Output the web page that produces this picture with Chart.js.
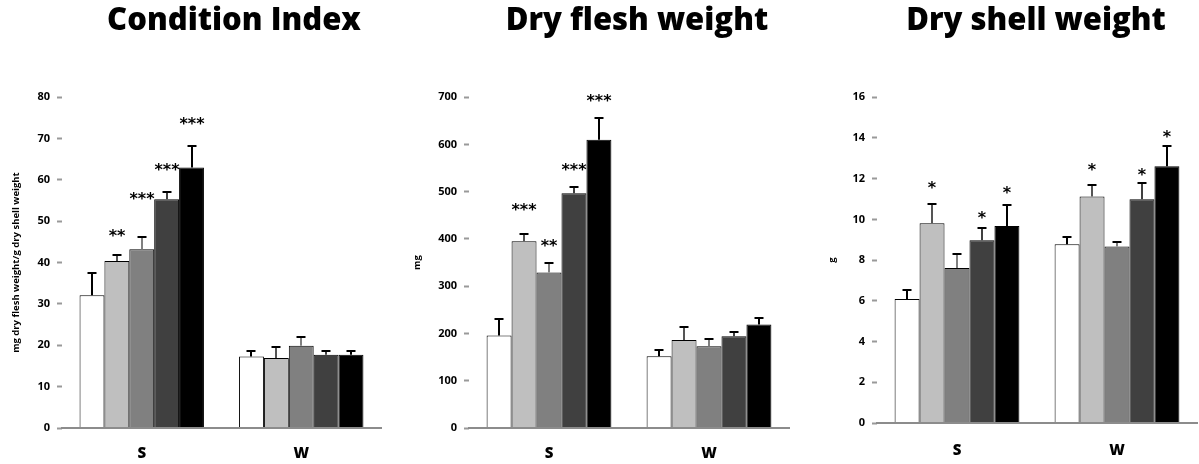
<!DOCTYPE html>
<html><head><meta charset="utf-8">
<script src="https://cdn.jsdelivr.net/npm/chart.js@4.4.1/dist/chart.umd.min.js"></script>
<style>
html,body{margin:0;padding:0;background:#fff;}
#wrap{position:relative;width:1199px;height:464px;overflow:hidden;background:#fff;}
.p{position:absolute;top:0;height:464px;}
canvas{display:block;}
</style></head><body>
<div id="wrap">
<div class="p" style="left:0;width:468px"><canvas id="c1" width="468" height="464"></canvas></div>
<div class="p" style="left:400px;width:474px"><canvas id="c2" width="474" height="464"></canvas></div>
<div class="p" style="left:800px;width:472px"><canvas id="c3" width="472" height="464"></canvas></div>
</div>
<script>
// ---------- data ----------
const categories = ['S', 'W'];
const seriesNames = ['Series 1', 'Series 2', 'Series 3', 'Series 4', 'Series 5'];

// Condition Index (mg dry flesh weight / g dry shell weight)
const ciTicks = [0, 10, 20, 30, 40, 50, 60, 70, 80];
const ci1 = [32.1, 17.3], ci1Err = [5.4, 1.4];
const ci2 = [40.4, 16.9], ci2Err = [1.5, 2.6];
const ci3 = [43.2, 19.9], ci3Err = [3.0, 2.1];
const ci4 = [55.3, 17.7], ci4Err = [1.8, 1.0];
const ci5 = [63.0, 17.7], ci5Err = [5.2, 1.0];
const ci2Sig = ['**', ''],  ci2SigAt = [47.4, null];
const ci3Sig = ['***', ''], ci3SigAt = [56.3, null];
const ci4Sig = ['***', ''], ci4SigAt = [63.3, null];
const ci5Sig = ['***', ''], ci5SigAt = [74.4, null];

// Dry flesh weight (mg)
const dfTicks = [0, 100, 200, 300, 400, 500, 600, 700];
const df1 = [196, 152], df1Err = [34, 12];
const df2 = [395, 186], df2Err = [15, 28];
const df3 = [329, 173], df3Err = [20, 16];
const df4 = [497, 194], df4Err = [13, 10];
const df5 = [610, 219], df5Err = [47, 14];
const df2Sig = ['***', ''], df2SigAt = [468, null];
const df3Sig = ['**', ''],  df3SigAt = [393, null];
const df4Sig = ['***', ''], df4SigAt = [553, null];
const df5Sig = ['***', ''], df5SigAt = [699, null];

// Dry shell weight (g)
const dsTicks = [0, 2, 4, 6, 8, 10, 12, 14, 16];
const ds1 = [6.09, 8.78], ds1Err = [0.45, 0.33];
const ds2 = [9.81, 11.12], ds2Err = [0.95, 0.55];
const ds3 = [7.61, 8.67], ds3Err = [0.71, 0.21];
const ds4 = [8.98, 10.99], ds4Err = [0.62, 0.81];
const ds5 = [9.68, 12.61], ds5Err = [1.03, 0.99];
const ds2Sig = ['*', '*'], ds2SigAt = [11.7, 12.6];
const ds4Sig = ['*', '*'], ds4SigAt = [10.25, 12.35];
const ds5Sig = ['*', '*'], ds5SigAt = [11.45, 14.2];

// ---------- styles ----------
const fills = ['#FFFFFF', '#BFBFBF', '#808080', '#404040', '#000000'];
const stemColors = ['#000000', '#555555', '#808080', '#404040', '#000000'];
const FONT = 'Open Sans';

function mkSets(vals, errs, sigs, sigAts) {
  return vals.map((v, i) => ({
    label: seriesNames[i],
    data: v,
    errors: errs[i],
    sig: sigs[i],
    sigAt: sigAts[i],
    backgroundColor: fills[i],
    borderColor: '#000000',
    borderWidth: 1,
    stemColor: stemColors[i]
  }));
}

const overlay = {
  id: 'overlay',
  afterDatasetsDraw(chart) {
    const ctx = chart.ctx;
    const ys = chart.scales.y;
    chart.data.datasets.forEach((ds, di) => {
      const meta = chart.getDatasetMeta(di);
      meta.data.forEach((bar, i) => {
        const v = ds.data[i], e = ds.errors[i];
        const x = Math.round(bar.x);
        const yTop = ys.getPixelForValue(v);
        const yErr = Math.round(ys.getPixelForValue(v + e));
        ctx.save();
        ctx.lineWidth = 2;
        ctx.strokeStyle = ds.stemColor;
        ctx.beginPath(); ctx.moveTo(x, yTop); ctx.lineTo(x, yErr); ctx.stroke();
        ctx.strokeStyle = '#000';
        ctx.beginPath(); ctx.moveTo(x - 4.5, yErr); ctx.lineTo(x + 4.5, yErr); ctx.stroke();
        if (ds.sig && ds.sig[i]) {
          ctx.font = 'bold 16px "DejaVu Sans"';
          ctx.textAlign = 'center';
          ctx.textBaseline = 'alphabetic';
          ctx.fillStyle = '#000';
          ctx.fillText(ds.sig[i], x, ys.getPixelForValue(ds.sigAt[i]) + 8.5);
        }
        ctx.restore();
      });
    });
  }
};

function makeChart(id, c) {
  return new Chart(document.getElementById(id), {
    type: 'bar',
    data: { labels: categories, datasets: c.datasets },
    options: {
      responsive: false,
      animation: false,
      events: [],
      layout: { padding: 0 },
      datasets: { bar: { categoryPercentage: 0.78, barPercentage: 1 } },
      plugins: {
        legend: { display: false },
        tooltip: { enabled: false },
        title: {
          display: true, text: c.title, color: '#000',
          font: { family: FONT, size: 31, weight: 800, lineHeight: 1.2 },
          padding: { top: 3, bottom: 57 }
        }
      },
      scales: {
        x: {
          grid: { display: false, drawTicks: false },
          border: { display: true, color: '#8c8c8c', width: 2, z: 1 },
          ticks: { color: '#000', padding: c.xPad, font: { family: FONT, size: 15, weight: 800 } },
          afterFit: s => { s.height = c.xH; }
        },
        y: {
          min: 0, max: c.ticks[c.ticks.length - 1],
          afterBuildTicks: s => { s.ticks = c.ticks.map(v => ({ value: v })); },
          ticks: { padding: 7, color: '#000', font: { family: FONT, size: 11, weight: 'bold' } },
          grid: { display: true, drawOnChartArea: false, drawTicks: true, tickLength: 5, tickWidth: 2, tickColor: '#999999' },
          border: { display: false },
          title: {
            display: true, text: c.yTitle, color: '#000',
            font: { family: FONT, size: 9.5, weight: 'bold', lineHeight: 1.2 },
            padding: { top: c.yTitlePad, bottom: 0 }
          },
          afterFit: s => { s.width = c.left; }
        },
        r: {
          type: 'linear', position: 'right', display: true,
          grid: { display: false }, ticks: { display: false }, border: { display: false },
          afterFit: s => { s.width = c.right; }
        }
      }
    },
    plugins: [overlay]
  });
}

makeChart('c1', {
  title: 'Condition Index',
  yTitle: 'mg dry flesh weight/g dry shell weight',
  ticks: ciTicks,
  datasets: mkSets([ci1, ci2, ci3, ci4, ci5], [ci1Err, ci2Err, ci3Err, ci4Err, ci5Err],
    [null, ci2Sig, ci3Sig, ci4Sig, ci5Sig], [null, ci2SigAt, ci3SigAt, ci4SigAt, ci5SigAt]),
  left: 62, right: 87, xH: 36, xPad: 17, yTitlePad: 11
});
makeChart('c2', {
  title: 'Dry flesh weight',
  yTitle: 'mg',
  ticks: dfTicks,
  datasets: mkSets([df1, df2, df3, df4, df5], [df1Err, df2Err, df3Err, df4Err, df5Err],
    [null, df2Sig, df3Sig, df4Sig, df5Sig], [null, df2SigAt, df3SigAt, df4SigAt, df5SigAt]),
  left: 69, right: 85, xH: 36, xPad: 17, yTitlePad: 12
});
makeChart('c3', {
  title: 'Dry shell weight',
  yTitle: 'g',
  ticks: dsTicks,
  datasets: mkSets([ds1, ds2, ds3, ds4, ds5], [ds1Err, ds2Err, ds3Err, ds4Err, ds5Err],
    [null, ds2Sig, null, ds4Sig, ds5Sig], [null, ds2SigAt, null, ds4SigAt, ds5SigAt]),
  left: 77, right: 75, xH: 41, xPad: 19, yTitlePad: 27
});
</script>
</body></html>
